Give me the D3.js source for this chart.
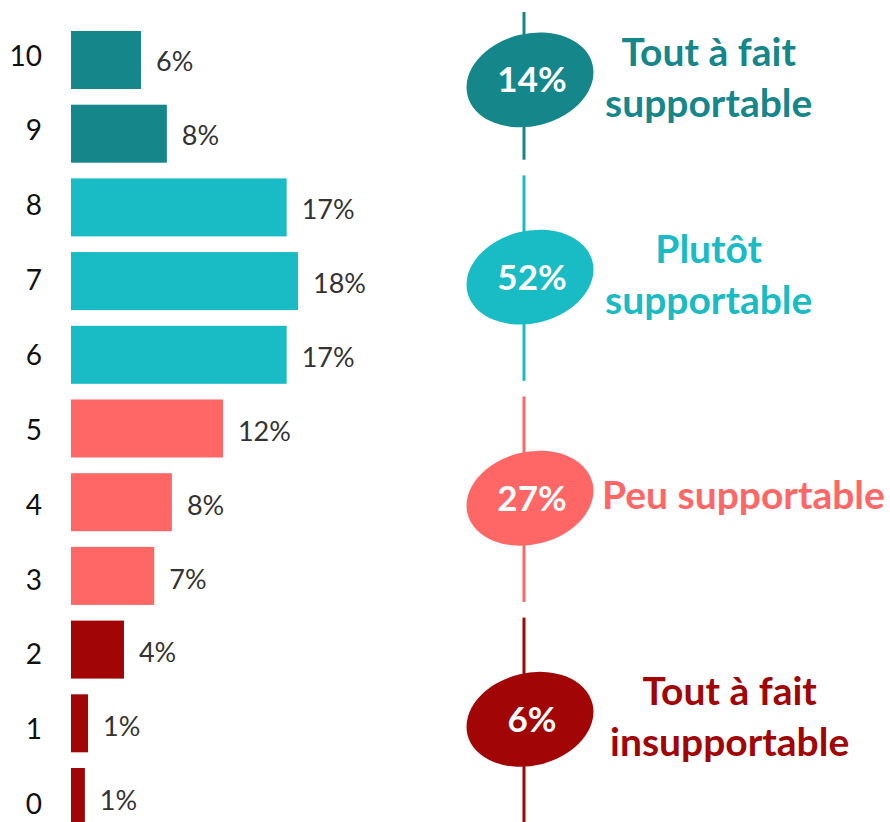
<!DOCTYPE html>
<html>
<head>
<meta charset="utf-8">
<script src="https://cdn.jsdelivr.net/npm/d3@7"></script>
<style>
  html, body { margin: 0; padding: 0; background: #fff; }
  svg { display: block; font-family: Lato, "Open Sans", sans-serif; }
</style>
</head>
<body>
<svg width="890" height="822"></svg>
<script>
// Scores 10 -> 0 et part des répondants (%)
const scores = ["10", "9", "8", "7", "6", "5", "4", "3", "2", "1", "0"];
const shares = [5.55, 7.6, 17.1, 18.0, 17.1, 12.05, 8.0, 6.6, 4.2, 1.35, 1.1];

// Groupes de notes
const groupNames = ["top", "plutot", "peu", "insup"];
const groupScores = [["10", "9"], ["8", "7", "6"], ["5", "4", "3"], ["2", "1", "0"]];
const groupTotals = [14, 52, 27, 6];
const groupLabels = [["Tout à fait", "supportable"], ["Plutôt", "supportable"], ["Peu supportable"], ["Tout à fait", "insupportable"]];
const groupColors = ["#15868a", "#19bbc4", "#ff6767", "#a10505"];

const svg = d3.select("svg");

// Echelles
const y = d3.scaleBand()
    .domain(scores)
    .range([23.15, 833.85])
    .paddingInner(0.213)
    .paddingOuter(0.1065);

// l'axe des scores est un peu plus étiré que les barres
const yCat = d3.scalePoint()
    .domain(scores)
    .range([55.5, 804]);

const x = d3.scaleLinear()
    .domain([0, 18])
    .range([71, 298]);

const colorOf = s => groupColors[groupScores.findIndex(g => g.includes(s))];

// Barres
svg.selectAll("rect.bar")
    .data(scores)
    .enter()
    .append("rect")
    .attr("class", "bar")
    .attr("x", x(0))
    .attr("y", d => y(d))
    .attr("width", (d, i) => x(shares[i]) - x(0))
    .attr("height", y.bandwidth())
    .attr("fill", d => colorOf(d));

// Libellés des scores (axe)
svg.selectAll("text.cat")
    .data(scores)
    .enter()
    .append("text")
    .attr("class", "cat")
    .attr("x", 42)
    .attr("y", d => yCat(d))
    .attr("dy", "0.36em")
    .attr("text-anchor", "end")
    .style("font-size", "28px")
    .attr("fill", "#111")
    .text(d => d);

// Valeurs
svg.selectAll("text.val")
    .data(scores)
    .enter()
    .append("text")
    .attr("class", "val")
    .attr("x", (d, i) => x(shares[i]) + 15)
    .attr("y", (d, i) => y(d) + y.bandwidth() / 2 + 1 + i * 0.2)
    .attr("dy", "0.38em")
    .style("font-size", "27px")
    .attr("fill", "#333")
    .text((d, i) => Math.round(shares[i]) + "%");

// Partie droite : traits, ellipses, totaux, libellés
const lineX = 524;
groupNames.forEach((name, gi) => {
    const g = groupScores[gi];
    const top = y(g[0]) - 3 - (gi === 0 ? 16 : 0);
    const bottom = y(g[g.length - 1]) + y.bandwidth() - 3;
    const cy = (y(g[0]) + y(g[g.length - 1]) + y.bandwidth()) / 2 - 4 - (gi === 0 ? 13 : 0);
    const col = groupColors[gi];

    const grp = svg.append("g").attr("class", "group-" + name);

    grp.append("line")
        .attr("x1", lineX).attr("x2", lineX)
        .attr("y1", top).attr("y2", bottom)
        .attr("stroke", col)
        .attr("stroke-width", 3);

    grp.append("ellipse")
        .attr("cx", 0).attr("cy", 0)
        .attr("rx", 64.4).attr("ry", 46.2)
        .attr("transform", `translate(530,${cy}) rotate(-14)`)
        .attr("fill", col);

    grp.append("text")
        .attr("x", 532)
        .attr("y", cy)
        .attr("dy", "0.36em")
        .attr("text-anchor", "middle")
        .style("font-size", "35px")
        .style("font-weight", "bold")
        .attr("fill", "#fff")
        .text(groupTotals[gi] + "%");

    const lines = groupLabels[gi];
    const label = grp.append("text")
        .attr("text-anchor", "middle")
        .style("font-size", "39px")
        .style("font-weight", "bold")
        .attr("fill", col);
    const offsets = lines.length === 1 ? [11] : [-14, 37];
    const spans = label.selectAll("tspan")
        .data(lines)
        .enter()
        .append("tspan")
        .attr("y", (d, i) => cy + offsets[i])
        .text(d => d);
    // centre du bloc = bord gauche + largeur de la plus longue ligne / 2
    let maxW = 0;
    spans.each(function() { maxW = Math.max(maxW, this.getComputedTextLength()); });
    const left = gi === 3 ? 610 : (gi === 2 ? 602 : 605);
    spans.attr("x", left + maxW / 2);
});
</script>
</body>
</html>
